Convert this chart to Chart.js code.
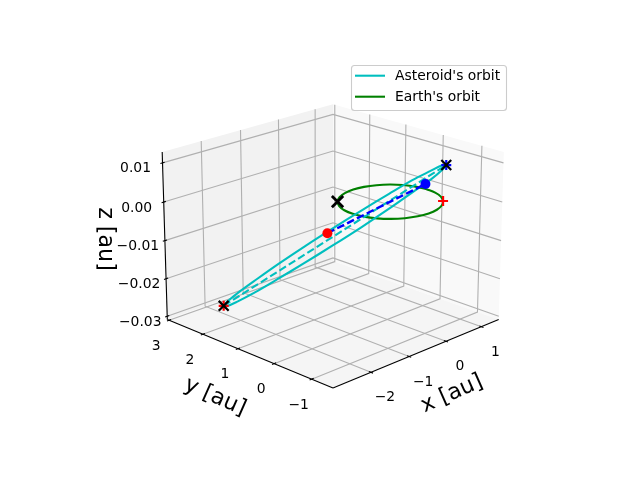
<!DOCTYPE html>
<html>
<head>
<meta charset="utf-8">
<title>Orbits</title>
<script src="https://cdn.jsdelivr.net/npm/chart.js@4"></script>
<style>
  html, body { margin: 0; padding: 0; background: #fff; }
  canvas { display: block; }
</style>
</head>
<body>
<canvas id="chart" width="640" height="480"></canvas>
<script>
// axis ticks
const xTicks = [-2, -1, 0, 1];
const yTicks = [-1, 0, 1, 2, 3];
const zTicks = [-0.03, -0.02, -0.01, 0, 0.01];
const xTickLabels = ["\u22122", "\u22121", "0", "1"];
const yTickLabels = ["\u22121", "0", "1", "2", "3"];
const zTickLabels = ["\u22120.03", "\u22120.02", "\u22120.01", "0.00", "0.01"];

// axis limits
const xLim = [-2.87, 1.41];
const yLim = [-1.46, 2.96];
const zLim = [-0.03, 0.0119];

// asteroid's orbit
const astX = [0.795, 0.838, 0.782, 0.632, 0.399, 0.097, -0.252, -0.625, -0.997, -1.34, -1.634, -1.858, -1.995,
              -2.038, -1.982, -1.832, -1.599, -1.297, -0.948, -0.575, -0.204, 0.14, 0.434, 0.658, 0.795];
const astY = [-0.74, -0.595, -0.349, -0.019, 0.371, 0.796, 1.228, 1.636, 1.991, 2.271, 2.457, 2.535, 2.5,
              2.355, 2.109, 1.779, 1.389, 0.964, 0.532, 0.124, -0.231, -0.511, -0.697, -0.775, -0.74];
const astZ = [0.0092, 0.0086, 0.0066, 0.0037, -0.0003, -0.0049, -0.0098, -0.0147, -0.0193, -0.0233, -0.0263, -0.0282, -0.0288,
              -0.0282, -0.0263, -0.0233, -0.0193, -0.0147, -0.0098, -0.0049, -0.0003, 0.0037, 0.0066, 0.0086, 0.0092];

// earth's orbit
const earthX = [1.055, 1.021, 0.921, 0.762, 0.555, 0.314, 0.055, -0.204, -0.445, -0.652, -0.811, -0.911, -0.945,
                -0.911, -0.811, -0.652, -0.445, -0.204, 0.055, 0.314, 0.555, 0.762, 0.921, 1.021, 1.055];
const earthY = [0, 0.259, 0.5, 0.707, 0.866, 0.966, 1, 0.966, 0.866, 0.707, 0.5, 0.259, 0,
                -0.259, -0.5, -0.707, -0.866, -0.966, -1, -0.966, -0.866, -0.707, -0.5, -0.259, 0];

// line of apsides (aphelion, perihelion)
const apsX = [-1.995, 0.795];
const apsY = [2.5, -0.74];
const apsZ = [-0.0288, 0.0092];

// departure / arrival
const transferX = [-0.44, 0.297];
const transferY = [1.205, -0.677];
const transferZ = [-0.0105, 0.0057];

// earth reference points
const nodeX = [0.762, -0.652];
const nodeY = [-0.707, 0.707];

const legendLabels = ["Asteroid's orbit", "Earth's orbit"];

// same camera as the 3d plot: elev 20, azim -135, dist 10, box 4:4:3
const elev = 20 * Math.PI / 180, azim = -135 * Math.PI / 180, dist = 10;
const boxW = 1.143, boxH = 0.857;
const scale = 1998, cx = 333, cy = 237;
const n = [Math.cos(elev) * Math.cos(azim), Math.cos(elev) * Math.sin(azim), Math.sin(elev)];
const u = [-Math.sin(azim), Math.cos(azim), 0];
const v = [-Math.sin(elev) * Math.cos(azim), -Math.sin(elev) * Math.sin(azim), Math.cos(elev)];

function project(x, y, z) {
  const p = [
    (x - xLim[0]) / (xLim[1] - xLim[0]) * boxW - boxW / 2,
    (y - yLim[0]) / (yLim[1] - yLim[0]) * boxW - boxW / 2,
    (z - zLim[0]) / (zLim[1] - zLim[0]) * boxH - boxH / 2
  ];
  const dot = (a, b) => a[0] * b[0] + a[1] * b[1] + a[2] * b[2];
  const w = dist - dot(p, n);
  return { x: cx + scale * dot(p, u) / w, y: cy - scale * dot(p, v) / w };
}

// panes stick out of the limits by 1/48 of the range
const ext = l => [l[0] - (l[1] - l[0]) / 48, l[1] + (l[1] - l[0]) / 48];
const [x0, x1] = ext(xLim), [y0, y1] = ext(yLim), [z0, z1] = ext(zLim);

const datasets = [];

function addLine(pts, color, width, extra) {
  datasets.push(Object.assign({
    data: pts, showLine: true, borderColor: color, borderWidth: width,
    pointRadius: 0, fill: false, tension: 0, borderCapStyle: "butt"
  }, extra || {}));
}
function addPane(pts, color) {
  addLine(pts, color, 0, { fill: "shape", backgroundColor: color });
}
function addMarker(pts, style, radius, color, width) {
  datasets.push({
    data: pts, showLine: false, pointStyle: style, pointRadius: radius,
    pointBackgroundColor: color, pointBorderColor: color, pointBorderWidth: width
  });
}

// panes
addPane([project(x0, y1, z0), project(x1, y1, z0), project(x1, y1, z1), project(x0, y1, z1), project(x0, y1, z0)], "#f2f2f2");
addPane([project(x1, y0, z0), project(x1, y1, z0), project(x1, y1, z1), project(x1, y0, z1), project(x1, y0, z0)], "#f9f9f9");
addPane([project(x0, y0, z0), project(x1, y0, z0), project(x1, y1, z0), project(x0, y1, z0), project(x0, y0, z0)], "#f5f5f5");

// grid
const gridColor = "#b0b0b0";
xTicks.forEach(t => addLine([project(t, y0, z0), project(t, y1, z0), project(t, y1, z1)], gridColor, 1.1));
yTicks.forEach(t => addLine([project(x0, t, z0), project(x1, t, z0), project(x1, t, z1)], gridColor, 1.1));
zTicks.forEach(t => addLine([project(x0, y1, t), project(x1, y1, t), project(x1, y0, t)], gridColor, 1.1));

// axis lines
addLine([project(x0, y0, z0), project(x1, y0, z0)], "#000", 1.1);
addLine([project(x0, y0, z0), project(x0, y1, z0)], "#000", 1.1);
addLine([project(x0, y1, z0), project(x0, y1, z1)], "#000", 1.1);

// tick marks
const dx = (xLim[1] - xLim[0]) * 0.012, dy = (yLim[1] - yLim[0]) * 0.012;
xTicks.forEach(t => addLine([project(t, y0 - dy, z0), project(t, y0 + dy, z0)], "#000", 1.1));
yTicks.forEach(t => addLine([project(x0 - dx, t, z0), project(x0 + dx, t, z0)], "#000", 1.1));
zTicks.forEach(t => addLine([project(x0 - dx, y1, t), project(x0 + dx, y1, t)], "#000", 1.1));

// orbits
addLine(earthX.map((x, i) => project(x, earthY[i], 0)), "#008000", 2.08, { tension: 0.35 });
addLine(astX.map((x, i) => project(x, astY[i], astZ[i])), "#00bfbf", 2.08, { tension: 0.35 });
addLine(apsX.map((x, i) => project(x, apsY[i], apsZ[i])), "#00bfbf", 2.08, { borderDash: [7.7, 3.3] });
addLine(transferX.map((x, i) => project(x, transferY[i], transferZ[i])), "#0000ff", 2.4, { borderDash: [7.7, 3.3] });

// markers
addMarker([project(nodeX[0], nodeY[0], 0)], "cross", 5, "#ff0000", 2.2);
addMarker([project(apsX[0], apsY[0], apsZ[0])], "cross", 5, "#ff0000", 2.2);
addMarker([project(apsX[1], apsY[1], apsZ[1])], "cross", 5, "#0000ff", 2.2);
addMarker([project(transferX[0], transferY[0], transferZ[0])], "circle", 5, "#ff0000", 0);
addMarker([project(transferX[1], transferY[1], transferZ[1])], "circle", 5, "#0000ff", 0);
addMarker([project(nodeX[1], nodeY[1], 0)], "crossRot", 8, "#000", 2.8);
addMarker([project(apsX[0], apsY[0], apsZ[0])], "crossRot", 7, "#000", 2.2);
addMarker([project(apsX[1], apsY[1], apsZ[1])], "crossRot", 7, "#000", 2.2);

// chart.js paints the first dataset last
datasets.reverse();

// tick labels, axis labels and legend
const textPlugin = {
  id: "text3d",
  afterDatasetsDraw(chart) {
    const ctx = chart.ctx;
    const tickFont = "13.9px 'DejaVu Sans'";
    const labelFont = "22.2px 'DejaVu Sans'";
    ctx.save();
    ctx.fillStyle = "#000";
    ctx.textAlign = "center";
    ctx.textBaseline = "middle";
    ctx.font = tickFont;
    xTicks.forEach((t, i) => {
      const p = project(t, y0, z0);
      ctx.fillText(xTickLabels[i], p.x + 14, p.y + 25.5);
    });
    yTicks.forEach((t, i) => {
      const p = project(x0, t, z0);
      ctx.fillText(yTickLabels[i], p.x - 13, p.y + 26);
    });
    zTicks.forEach((t, i) => {
      const p = project(x0, y1, t);
      ctx.fillText(zTickLabels[i], p.x - 27, p.y + 6);
    });

    ctx.font = labelFont;
    [["x [au]", 452, 394, -24], ["y [au]", 215, 397, 24], ["z [au]", 105, 239, 90]].forEach(l => {
      ctx.save();
      ctx.translate(l[1], l[2]);
      ctx.rotate(l[3] * Math.PI / 180);
      ctx.fillText(l[0], 0, 0);
      ctx.restore();
    });

    // legend box
    ctx.beginPath();
    ctx.roundRect(351.5, 65.5, 155, 45, 3);
    ctx.fillStyle = "rgba(255,255,255,0.8)";
    ctx.fill();
    ctx.strokeStyle = "#cccccc";
    ctx.lineWidth = 1.1;
    ctx.stroke();
    ["#00bfbf", "#008000"].forEach((c, i) => {
      const ly = 75.7 + i * 21;
      ctx.beginPath();
      ctx.moveTo(355, ly);
      ctx.lineTo(385, ly);
      ctx.strokeStyle = c;
      ctx.lineWidth = 2.08;
      ctx.stroke();
      ctx.fillStyle = "#000";
      ctx.font = tickFont;
      ctx.textAlign = "left";
      ctx.fillText(legendLabels[i], 395, ly + 0.7);
    });
    ctx.restore();
  }
};

new Chart(document.getElementById("chart"), {
  type: "scatter",
  data: { datasets },
  plugins: [textPlugin],
  options: {
    responsive: false,
    animation: false,
    layout: { padding: 0, autoPadding: false },
    plugins: { legend: { display: false }, tooltip: { enabled: false } },
    scales: {
      x: { type: "linear", min: 0, max: 640, display: false },
      y: { type: "linear", min: 0, max: 480, reverse: true, display: false }
    }
  }
});
</script>
</body>
</html>
